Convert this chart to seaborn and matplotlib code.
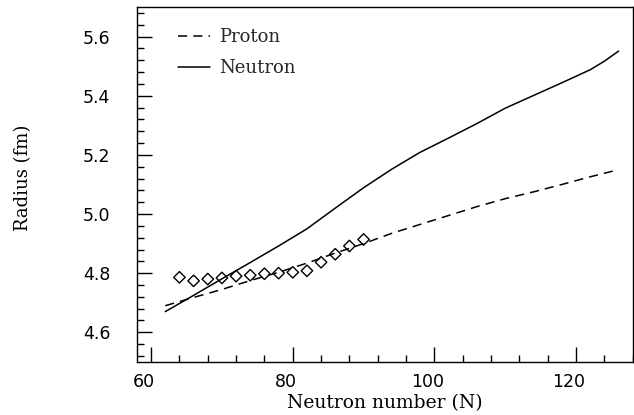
import matplotlib
matplotlib.use("Agg")
import matplotlib.pyplot as plt
from matplotlib.ticker import MultipleLocator, FormatStrFormatter
from matplotlib.transforms import ScaledTranslation
import pandas as pd
import seaborn as sns

# Calculated radii versus neutron number
n_calc = [62, 66, 70, 74, 78, 82, 86, 90, 94, 98, 102, 106, 110, 114, 118, 122, 124, 126]
r_proton = [4.690, 4.718, 4.745, 4.775, 4.803, 4.834, 4.868, 4.900, 4.935, 4.965,
            4.995, 5.025, 5.052, 5.075, 5.100, 5.126, 5.138, 5.150]
r_neutron = [4.670, 4.725, 4.781, 4.836, 4.892, 4.950, 5.020, 5.089, 5.152, 5.209,
             5.257, 5.306, 5.358, 5.401, 5.444, 5.488, 5.517, 5.551]

# Measured charge radii
n_exp = [64, 66, 68, 70, 72, 74, 76, 78, 80, 82, 84, 86, 88, 90]
r_exp = [4.786, 4.774, 4.780, 4.784, 4.790, 4.793, 4.798, 4.800, 4.803, 4.808,
         4.837, 4.864, 4.892, 4.914]

series_names = ["Proton", "Neutron"]

calc = pd.DataFrame({
    "N": n_calc * 2,
    "R": r_proton + r_neutron,
    "kind": [series_names[0]] * len(n_calc) + [series_names[1]] * len(n_calc),
})
exp = pd.DataFrame({"N": n_exp, "R": r_exp})

sns.set_theme(style="ticks")
plt.rcParams["font.family"] = ["DejaVu Serif"]

fig = plt.figure(figsize=(6.34, 4.15), dpi=100)
ax = fig.add_axes([0.216, 0.128, 0.782, 0.855])

sns.lineplot(data=calc, x="N", y="R", style="kind", hue="kind",
             palette=["black", "black"],
             dashes={"Proton": (6, 4), "Neutron": ""},
             linewidth=1.1, ax=ax)
sns.scatterplot(data=exp, x="N", y="R", marker="D", s=34,
                facecolor="none", edgecolor="black", linewidth=1.0,
                ax=ax, zorder=3)

ax.set_xlim(58, 128)
ax.set_ylim(4.5, 5.7)
ax.xaxis.set_major_locator(MultipleLocator(20))
ax.xaxis.set_minor_locator(MultipleLocator(4))
ax.yaxis.set_major_locator(MultipleLocator(0.2))
ax.yaxis.set_minor_locator(MultipleLocator(0.04))
ax.yaxis.set_major_formatter(FormatStrFormatter("%.1f"))

ax.tick_params(which="both", direction="in", top=False, right=False,
               colors="black", labelsize=12.5, width=1.0)
ax.tick_params(which="major", length=11)
ax.tick_params(which="minor", length=5)
ax.tick_params(axis="y", which="major", pad=19)
ax.tick_params(axis="x", which="major", pad=8)

shift = ScaledTranslation(-7 / 100, 0, fig.dpi_scale_trans)
for lab in ax.get_xticklabels():
    lab.set_family("DejaVu Sans")
    lab.set_transform(lab.get_transform() + shift)
for lab in ax.get_yticklabels():
    lab.set_family("DejaVu Sans")

for sp in ax.spines.values():
    sp.set_color("black")
    sp.set_linewidth(1.0)

ax.set_xlabel("Neutron number (N)", fontsize=13.5, labelpad=2, color="black")
ax.set_ylabel("Radius (fm)", fontsize=13, color="black")
ax.yaxis.set_label_coords(-0.212, 0.518)

handles, labels = ax.get_legend_handles_labels()
keep = [i for i, l in enumerate(labels) if l in series_names]
ax.legend([handles[i] for i in keep], [labels[i] for i in keep],
          loc="upper left", bbox_to_anchor=(0.068, 0.96), borderaxespad=0,
          frameon=False, fontsize=13, handlelength=1.8, handletextpad=0.5,
          labelspacing=0.72)

fig.savefig("out.png", dpi=100)
